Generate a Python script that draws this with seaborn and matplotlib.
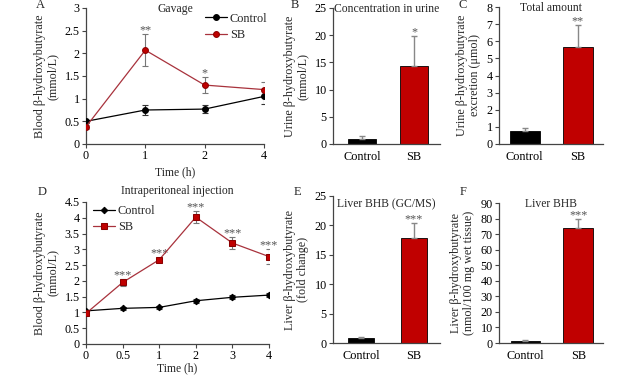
import numpy as np
import pandas as pd
import seaborn as sns
import matplotlib.pyplot as plt
from matplotlib.ticker import FuncFormatter

# ---- data ----
gav_time = ['0', '1', '2', '4']
gav_ctrl = [0.50, 0.75, 0.77, 1.05]
gav_ctrl_err = [0.04, 0.12, 0.09, 0.17]
gav_sb = [0.38, 2.07, 1.30, 1.20]
gav_sb_err = [0.05, 0.35, 0.17, 0.17]
gav_stars = ['', '**', '*', '']

ip_time = ['0', '0.5', '1', '2', '3', '4']
ip_ctrl = [1.05, 1.13, 1.16, 1.37, 1.48, 1.55]
ip_ctrl_err = [0.04, 0.05, 0.05, 0.06, 0.06, 0.07]
ip_sb = [0.97, 1.95, 2.67, 4.02, 3.20, 2.77]
ip_sb_err = [0.05, 0.10, 0.07, 0.20, 0.20, 0.25]
ip_stars = ['', '***', '***', '***', '***', '***']

groups = ['Control', 'SB']
urine_conc = [1.0, 14.4]
urine_conc_err = [0.4, 5.4]
urine_total = [0.75, 5.65]
urine_total_err = [0.18, 1.3]
liver_gcms = [0.9, 17.9]
liver_gcms_err = [0.2, 2.5]
liver_bhb = [1.5, 74.0]
liver_bhb_err = [0.3, 6.0]

RED = '#C00000'
LINE_RED = '#A8323C'
TICK_FS = 8.7
LABEL_FS = 8.7
TEXT_FS = 8.4

sns.set_style('ticks')
plt.rcParams['font.family'] = ['Liberation Serif', 'DejaVu Serif']
plt.rcParams['font.size'] = TEXT_FS

fig = plt.figure(figsize=(6.39, 3.75), dpi=100)
W, H = 639, 375


def add_ax(l, r, t, b):
    return fig.add_axes([l / W, 1 - b / H, (r - l) / W, (b - t) / H])


def style(ax):
    sns.despine(ax=ax)
    for s in ['left', 'bottom']:
        ax.spines[s].set_color('#444444')
        ax.spines[s].set_linewidth(0.9)
    ax.tick_params(colors='#444444', labelcolor='black', length=3, width=0.8,
                   labelsize=TICK_FS, pad=1.5)
    ax.yaxis.set_major_formatter(FuncFormatter(lambda v, p: f'{v:g}'))


def star(ax, x, y, s):
    ax.annotate(s, (x, y), xytext=(0, 0.5), textcoords='offset points',
                ha='center', va='baseline', color='#555555', fontsize=8.7)


def line_panel(ax, times, ctrl, ctrl_err, sb, sb_err, stars, ylim, ystep,
               m_ctrl, m_sb, ms_ctrl, ms_sb, leg_loc):
    x = np.arange(len(times))
    sns.lineplot(x=x, y=ctrl, ax=ax, color='black', lw=0.9, marker=m_ctrl,
                 markersize=ms_ctrl, markeredgecolor='black', label='Control',
                 zorder=3)
    sns.lineplot(x=x, y=sb, ax=ax, color=LINE_RED, lw=0.9, marker=m_sb,
                 markersize=ms_sb, markerfacecolor=RED, markeredgecolor='#8B0000',
                 label='SB', zorder=4)
    ax.errorbar(x, ctrl, yerr=ctrl_err, fmt='none', ecolor='#333333',
                elinewidth=0.8, capsize=2, capthick=0.8, zorder=2)
    ax.errorbar(x, sb, yerr=sb_err, fmt='none', ecolor='#777777',
                elinewidth=0.8, capsize=2, capthick=0.8, zorder=2)
    for xi, v, e, s in zip(x, sb, sb_err, stars):
        if s:
            star(ax, xi, v + e, s)
    ax.set_xticks(x)
    ax.set_xticklabels(times)
    ax.set_xlim(0, len(times) - 1)
    ax.set_ylim(*ylim)
    ax.set_yticks(np.arange(0, ylim[1] + 1e-9, ystep))
    ax.set_xlabel('Time (h)', labelpad=1, fontsize=TEXT_FS)
    ax.legend(loc=leg_loc, frameon=False, handlelength=1.8,
              handletextpad=0.2, labelspacing=0.35, fontsize=8.8,
              borderaxespad=0.2)
    style(ax)


def bar_panel(ax, vals, errs, s, ylim, ystep, xlim, width):
    df = pd.DataFrame({'group': groups, 'value': vals})
    sns.barplot(data=df, x='group', y='value', hue='group',
                palette=['black', RED], saturation=1, width=width, ax=ax,
                legend=False, edgecolor=['black', '#8B0000'], linewidth=0.6)
    ax.errorbar([0, 1], vals, yerr=[[0, 0], errs], fmt='none',
                ecolor='#888888', elinewidth=1.0, capsize=2.5, capthick=1.0,
                zorder=1)
    star(ax, 1, vals[1] + errs[1], s)
    ax.set_xlim(*xlim)
    ax.set_ylim(*ylim)
    ax.set_yticks(np.arange(0, ylim[1] + 1e-9, ystep))
    ax.set_xlabel('')
    style(ax)
    ax.tick_params(axis='x', length=0, pad=5, labelsize=8.8)


def ylab(ax, text):
    ax.set_ylabel(text, labelpad=4, fontsize=LABEL_FS, linespacing=1.15)


# A - Gavage
axA = add_ax(86, 264, 8, 144)
line_panel(axA, gav_time, gav_ctrl, gav_ctrl_err, gav_sb, gav_sb_err,
           gav_stars, (0, 3), 0.5, 'o', 'o', 4.2, 4.2, 'upper right')
ylab(axA, 'Blood β-hydroxybutyrate\n(mmol/L)')
axA.xaxis.labelpad = 3
axA.legend_.set_bbox_to_anchor((1.06, 1.02))
axA.text(0.5, 0.99, 'Gavage', transform=axA.transAxes, ha='center', va='center')

# B - urine concentration
axB = add_ax(333, 440, 8, 144)
bar_panel(axB, urine_conc, urine_conc_err, '*', (0, 25), 5, (-0.56, 1.5), 0.54)
ylab(axB, 'Urine β-hydroxybutyrate\n(mmol/L)')
axB.text(0.5, 0.99, 'Concentration in urine', transform=axB.transAxes,
         ha='center', va='center')

# C - total amount
axC = add_ax(499, 603, 7, 144)
bar_panel(axC, urine_total, urine_total_err, '**', (0, 8), 1, (-0.48, 1.47), 0.56)
ylab(axC, 'Urine β-hydroxybutyrate\nexcretion (μmol)')
axC.text(0.5, 0.995, 'Total amount', transform=axC.transAxes, ha='center',
         va='center')

# D - intraperitoneal
axD = add_ax(86, 269, 202, 344)
line_panel(axD, ip_time, ip_ctrl, ip_ctrl_err, ip_sb, ip_sb_err, ip_stars,
           (0, 4.5), 0.5, 'D', 's', 3.3, 5.0, 'upper left')
axD.xaxis.labelpad = 0
axD.legend_.set_bbox_to_anchor((0.0, 1.03))
ylab(axD, 'Blood β-hydroxybutyrate\n(mmol/L)')
axD.text(0.5, 1.075, 'Intraperitoneal injection', transform=axD.transAxes,
         ha='center', va='center')

# E - liver GC/MS
axE = add_ax(333, 440, 196, 343)
bar_panel(axE, liver_gcms, liver_gcms_err, '***', (0, 25), 5, (-0.54, 1.5), 0.5)
ylab(axE, 'Liver β-hydroxybutyrate\n(fold change)')
axE.text(0.5, 0.945, 'Liver BHB (GC/MS)', transform=axE.transAxes,
         ha='center', va='center')

# F - liver BHB
axF = add_ax(499, 603, 203, 343)
bar_panel(axF, liver_bhb, liver_bhb_err, '***', (0, 90), 10, (-0.5, 1.47), 0.56)
ylab(axF, 'Liver β-hydroxybutyrate\n(nmol/100 mg wet tissue)')
axF.text(0.5, 0.99, 'Liver BHB', transform=axF.transAxes, ha='center',
         va='center')

# panel letters
for letter, (px, py) in zip('ABCDEF', [(40, 5), (295, 5), (463, 5),
                                       (42, 192), (297, 192), (463, 192)]):
    fig.text(px / W, 1 - py / H, letter, ha='center', va='center', fontsize=9)

fig.savefig('out.png', dpi=100)
